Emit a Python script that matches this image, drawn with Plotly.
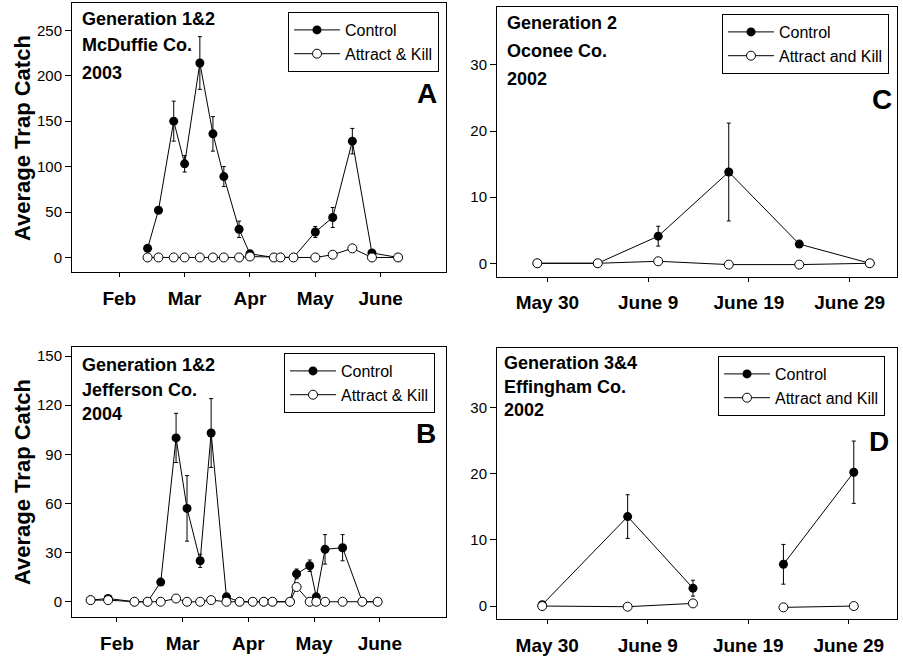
import plotly.graph_objects as go

W, H = 903, 658

# ---------------- data ----------------
# Panel A (McDuffie Co. 2003) - x in day of year
a_days = [45, 50, 57, 62, 69, 75, 80, 87, 92, 103, 106, 112, 122, 130, 139, 148, 160]
a_control = [10, 52, 150, 103, 214, 136, 89, 31, 4, 0, 0, 0, 28, 44, 128, 5, 0]
a_control_err = [0, 0, 22, 9, 29, 19, 11, 9, 0, 0, 0, 0, 6, 11, 14, 0, 0]
a_ak = [0, 0, 0, 0, 0, 0, 0, 0, 1, 0, 0, 0, 0, 3, 10, 0, 0]

# Panel B (Jefferson Co. 2004)
b_days = [20, 28, 40, 46, 52, 59, 64, 70, 75, 82, 88, 94, 99, 103, 111, 114, 120, 123, 127, 135, 144, 151]
b_control = [1, 2, 0, 0, 12, 100, 57, 25, 103, 3, 0, 0, 0, 0, 0, 17, 22, 3, 32, 33, 0, 0]
b_control_err = [0, 0, 0, 0, 0, 15, 20, 4, 21, 0, 0, 0, 0, 0, 0, 3, 3.5, 0, 9, 8, 0, 0]
b_ak = [1, 1, 0, 0, 0, 2, 0, 0, 1, 0, 0, 0, 0, 0, 0, 9, 0, 0, 0, 0, 0, 0]

# Panel C (Oconee Co. 2002) - x in days after May 30
c_days = [-1, 5, 11, 18, 25, 32]
c_control = [0, 0, 4.1, 13.8, 2.9, 0]
c_control_err = [0, 0, 1.5, 7.4, 0, 0]
c_ak = [0, 0, 0.3, -0.2, -0.2, 0]

# Panel D (Effingham Co. 2002) - gap between the two sampling periods
d_days = [-0.5, 8, 14.5, None, 23.5, 30.5]
d_control = [0.2, 13.5, 2.7, None, 6.3, 20.2]
d_control_err = [0, 3.3, 1.2, 0, 3, 4.7]
d_ak = [0, -0.1, 0.4, None, -0.2, 0]

month_ticks = [32, 62, 92, 122, 152]
month_labels = ["Feb", "Mar", "Apr", "May", "June"]
june_ticks = [0, 10, 20, 30]
june_labels = ["May 30", "June 9", "June 19", "June 29"]

FONT = "Liberation Sans, Arial, sans-serif"


def px(x):
    return x / W


def py(y):
    return 1 - y / H


fig = go.Figure()

panels = [
    (a_days, a_control, a_control_err, a_ak, "", "legend", "Attract & Kill"),
    (b_days, b_control, b_control_err, b_ak, "2", "legend2", "Attract & Kill"),
    (c_days, c_control, c_control_err, c_ak, "3", "legend3", "Attract and Kill"),
    (d_days, d_control, d_control_err, d_ak, "4", "legend4", "Attract and Kill"),
]

for days, ctrl, err, ak, sfx, lg, aklabel in panels:
    fig.add_trace(go.Scatter(
        x=days, y=ctrl, mode="lines+markers", name="Control",
        xaxis="x" + sfx, yaxis="y" + sfx, legend=lg,
        line=dict(color="black", width=1),
        marker=dict(symbol="circle", size=9, color="black"),
        error_y=dict(type="data", array=err, visible=True, color="black",
                     thickness=1, width=2),
        connectgaps=False,
    ))
    fig.add_trace(go.Scatter(
        x=days, y=ak, mode="lines+markers", name=aklabel,
        xaxis="x" + sfx, yaxis="y" + sfx, legend=lg,
        line=dict(color="black", width=1),
        marker=dict(symbol="circle", size=9, color="white",
                    line=dict(color="black", width=1)),
        connectgaps=False,
    ))

left_dom = [px(72), px(446)]
right_dom = [px(497), px(897)]

axis_common = dict(showline=True, linecolor="black", linewidth=1, mirror=True,
                   showgrid=False, zeroline=False, ticks="outside",
                   tickcolor="black", automargin=False)

xfont = dict(family=FONT, size=19, color="black", weight="bold")
yfont = dict(family=FONT, size=15, color="black")

layout = dict(
    width=W, height=H,
    margin=dict(l=0, r=0, t=0, b=0),
    paper_bgcolor="white", plot_bgcolor="white",
    showlegend=True,
    font=dict(family=FONT, color="black"),
    xaxis=dict(domain=left_dom, anchor="y", range=[10.3, 182],
               tickvals=month_ticks, ticktext=month_labels, tickfont=xfont,
               ticklen=4, ticklabelstandoff=5, **axis_common),
    yaxis=dict(domain=[py(272), py(3)], anchor="x", range=[-16, 280],
               tickvals=[0, 50, 100, 150, 200, 250], tickfont=yfont,
               ticklen=6, **axis_common),
    xaxis2=dict(domain=left_dom, anchor="y2", range=[11.5, 182.2],
                tickvals=month_ticks, ticktext=month_labels, tickfont=xfont,
                ticklen=4, ticklabelstandoff=5, **axis_common),
    yaxis2=dict(domain=[py(617), py(347)], anchor="x2", range=[-9.3, 155.5],
                tickvals=[0, 30, 60, 90, 120, 150], tickfont=yfont,
                ticklen=6, **axis_common),
    xaxis3=dict(domain=right_dom, anchor="y3", range=[-5.0, 34.7],
                tickvals=june_ticks, ticktext=june_labels, tickfont=xfont,
                ticklen=4, ticklabelstandoff=5, **axis_common),
    yaxis3=dict(domain=[py(276.5), py(6.7)], anchor="x3", range=[-2, 38.8],
                tickvals=[0, 10, 20, 30], tickfont=yfont,
                ticklen=6, **axis_common),
    xaxis4=dict(domain=right_dom, anchor="y4", range=[-5.0, 34.8],
                tickvals=june_ticks, ticktext=june_labels, tickfont=xfont,
                ticklen=4, ticklabelstandoff=5, **axis_common),
    yaxis4=dict(domain=[py(619.3), py(348.3)], anchor="x4", range=[-2, 38.9],
                tickvals=[0, 10, 20, 30], tickfont=yfont,
                ticklen=6, **axis_common),
)

legend_style = dict(xanchor="left", yanchor="top", bgcolor="white",
                    bordercolor="black", borderwidth=1,
                    font=dict(family=FONT, size=16, color="black"),
                    tracegroupgap=0, itemwidth=46)
layout["legend"] = dict(x=px(288), y=py(12), **legend_style)
layout["legend2"] = dict(x=px(284), y=py(353), **legend_style)
layout["legend3"] = dict(x=px(722), y=py(14), **legend_style)
layout["legend4"] = dict(x=px(718), y=py(356), **legend_style)

fig.update_layout(**layout)

annos = []
label_font = dict(family=FONT, size=18, color="black", weight="bold")
texts = [
    (80, [19, 45, 73], ["Generation 1&2", "McDuffie Co.", "2003"]),
    (80, [365, 390, 414], ["Generation 1&2", "Jefferson Co.", "2004"]),
    (505, [23, 51, 79], ["Generation 2", "Oconee Co.", "2002"]),
    (502, [363, 387, 410], ["Generation 3&4", "Effingham Co.", "2002"]),
]
for x0, ys, lines in texts:
    for yy, t in zip(ys, lines):
        annos.append(dict(text=t, x=px(x0), y=py(yy), xref="paper", yref="paper",
                          xanchor="left", yanchor="middle", showarrow=False,
                          font=label_font))

letter_font = dict(family=FONT, size=28, color="black", weight="bold")
for t, x0, y0 in [("A", 427, 93), ("B", 426, 434), ("C", 882, 100), ("D", 879, 441)]:
    annos.append(dict(text=t, x=px(x0), y=py(y0), xref="paper", yref="paper",
                      xanchor="center", yanchor="middle", showarrow=False,
                      font=letter_font))

title_font = dict(family=FONT, size=22, color="black", weight="bold")
for yc in [138, 482]:
    annos.append(dict(text="Average Trap Catch", x=px(22), y=py(yc),
                      xref="paper", yref="paper", textangle=-90,
                      xanchor="center", yanchor="middle", showarrow=False,
                      font=title_font))

fig.update_layout(annotations=annos)

fig.write_html("out.html",
               config={"displayModeBar": False},
               post_script="document.body.style.margin='0';"
                           "document.body.style.padding='0';"
                           "document.body.style.overflow='hidden';")
